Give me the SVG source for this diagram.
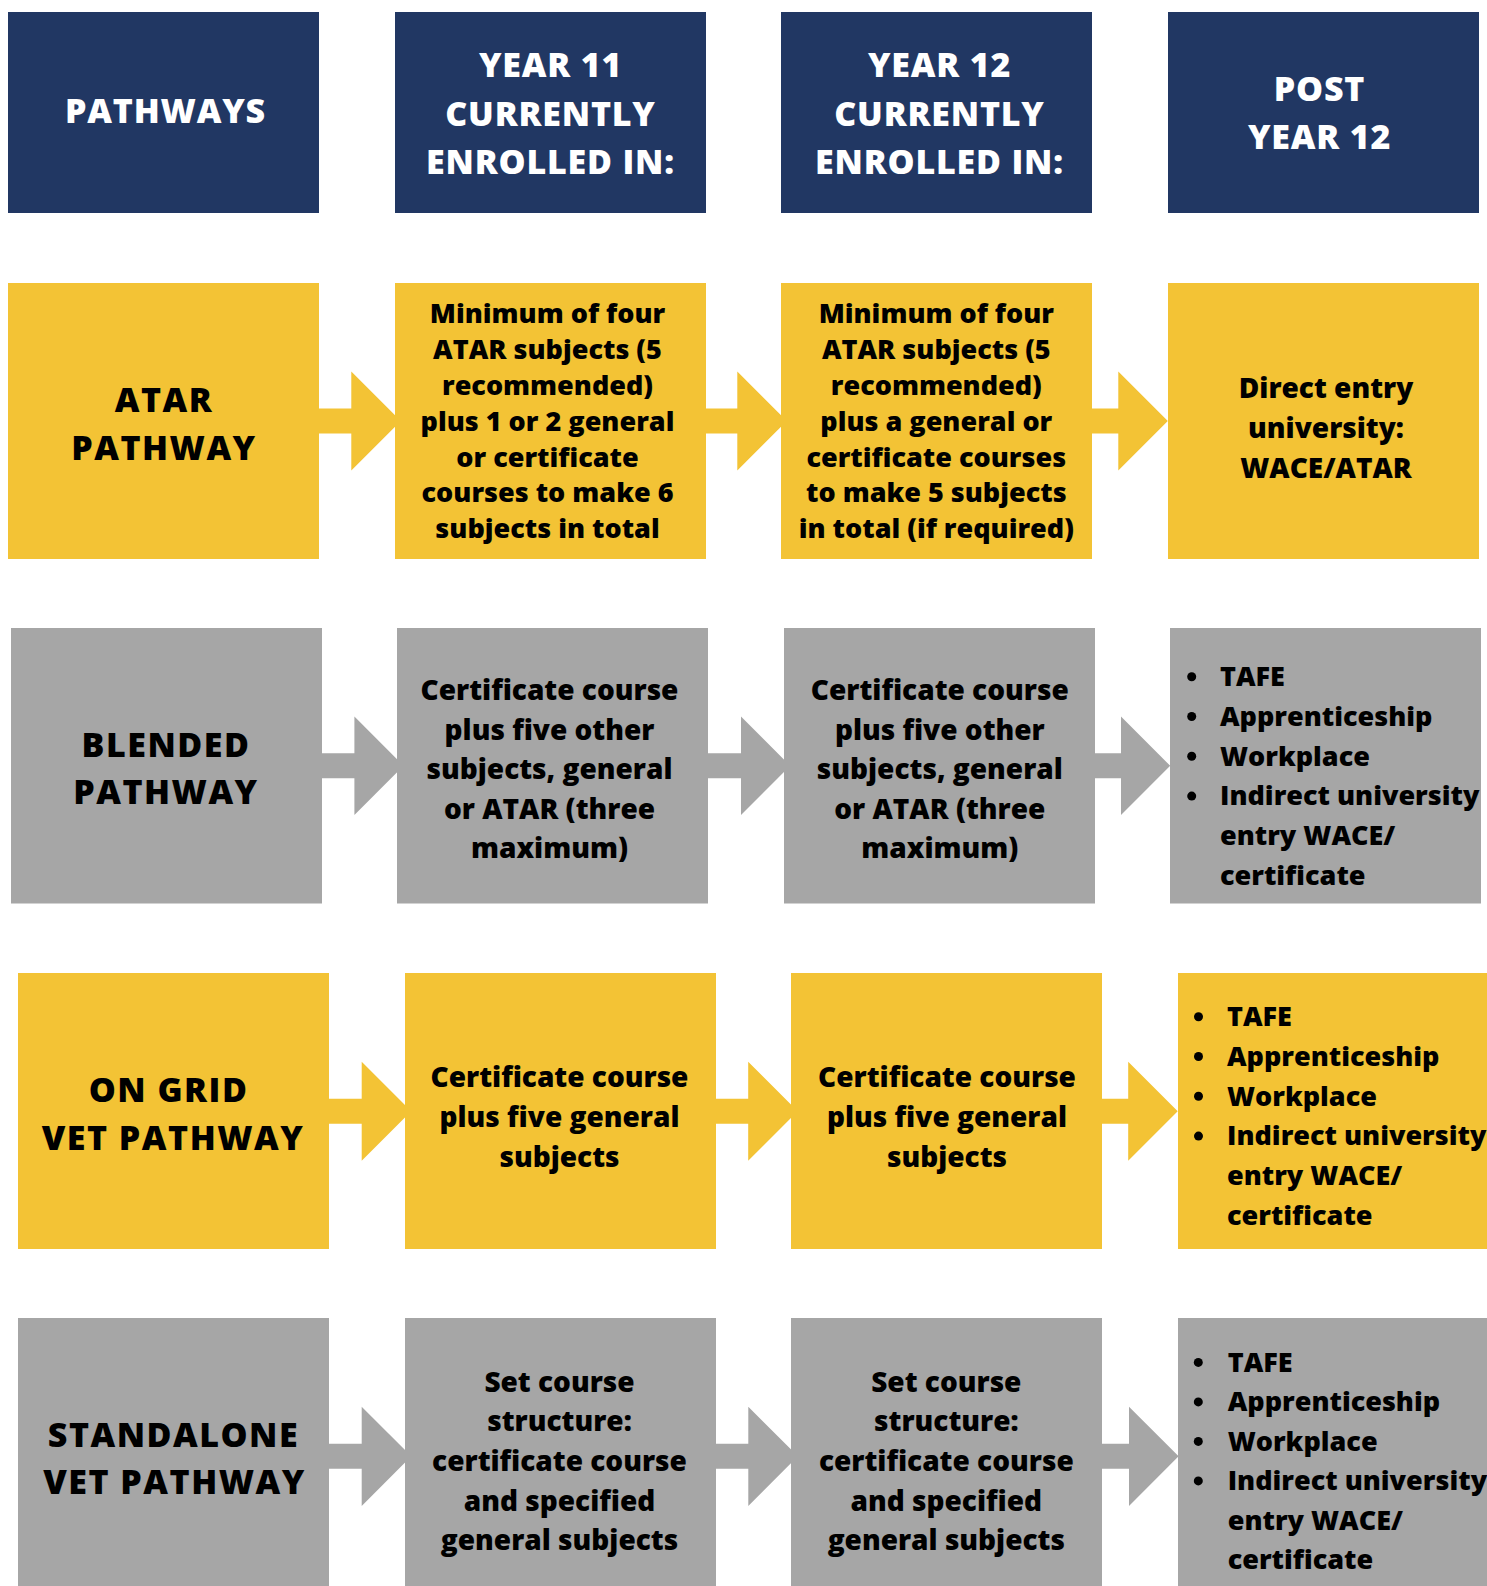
<svg xmlns="http://www.w3.org/2000/svg" width="1487" height="1586" viewBox="0 0 1487 1586">
<style>
.navy{fill:#213763}
.yel{fill:#F3C335}
.gry{fill:#A6A6A6}
text{font-family:"Open Sans","DejaVu Sans",sans-serif;font-weight:800}
.h{fill:#FFFFFF;font-size:34px;letter-spacing:0.8px;text-anchor:middle}
.lbl{fill:#000000;font-size:34px;letter-spacing:1.5px;text-anchor:middle}
.b{fill:#000000;font-size:27px;text-anchor:middle}
.b2{fill:#000000;font-size:28px;text-anchor:middle}
.li{fill:#000000;font-size:27px}
.dot{fill:#000000}
</style>
<rect width="1487" height="1586" fill="#FFFFFF"/>
<g id="connectors">
<polygon class="yel" points="319,408.5 351.3,408.5 351.3,371.5 400.8,421 351.3,470.5 351.3,433.5 319,433.5"/>
<polygon class="yel" points="706,408.5 737.3,408.5 737.3,371.5 786.8,421 737.3,470.5 737.3,433.5 706,433.5"/>
<polygon class="yel" points="1092,408.5 1118.3,408.5 1118.3,371.5 1167.8,421 1118.3,470.5 1118.3,433.5 1092,433.5"/>
<polygon class="gry" points="322,753.3 354.4,753.3 354.4,716.5 403.6,765.8 354.4,815 354.4,778.3 322,778.3"/>
<polygon class="gry" points="708,753.3 741,753.3 741,716.5 790.2,765.8 741,815 741,778.3 708,778.3"/>
<polygon class="gry" points="1095,753.3 1121,753.3 1121,716.5 1170.2,765.8 1121,815 1121,778.3 1095,778.3"/>
<polygon class="yel" points="329,1098.7 361.7,1098.7 361.7,1061.7 411.2,1111.2 361.7,1160.7 361.7,1123.7 329,1123.7"/>
<polygon class="yel" points="716,1098.7 748.2,1098.7 748.2,1061.7 797.7,1111.2 748.2,1160.7 748.2,1123.7 716,1123.7"/>
<polygon class="yel" points="1102,1098.7 1128.2,1098.7 1128.2,1061.7 1177.7,1111.2 1128.2,1160.7 1128.2,1123.7 1102,1123.7"/>
<polygon class="gry" points="329,1443.8 361.7,1443.8 361.7,1406.7 411.3,1456.3 361.7,1506 361.7,1468.8 329,1468.8"/>
<polygon class="gry" points="716,1443.8 748.3,1443.8 748.3,1406.7 797.9,1456.3 748.3,1506 748.3,1468.8 716,1468.8"/>
<polygon class="gry" points="1102,1443.8 1129,1443.8 1129,1406.7 1178.6,1456.3 1129,1506 1129,1468.8 1102,1468.8"/>
</g>
<g id="hdr-pathways">
<rect class="navy" x="8" y="12" width="311" height="201"/>
<text class="h" x="165.5" y="123.3">PATHWAYS</text>
</g>
<g id="hdr-year11">
<rect class="navy" x="395" y="12" width="311" height="201"/>
<text class="h"><tspan x="550.5" y="77.3">YEAR 11</tspan><tspan x="550.5" y="125.5">CURRENTLY</tspan><tspan x="550.5" y="173.5">ENROLLED IN:</tspan></text>
</g>
<g id="hdr-year12">
<rect class="navy" x="781" y="12" width="311" height="201"/>
<text class="h"><tspan x="939.5" y="77.3">YEAR 12</tspan><tspan x="939.5" y="125.5">CURRENTLY</tspan><tspan x="939.5" y="173.5">ENROLLED IN:</tspan></text>
</g>
<g id="hdr-post">
<rect class="navy" x="1168" y="12" width="311" height="201"/>
<text class="h"><tspan x="1319.5" y="101">POST</tspan><tspan x="1319.5" y="149">YEAR 12</tspan></text>
</g>
<g id="atar-pathway">
<rect class="yel" x="8" y="283" width="311" height="276"/>
<text class="lbl"><tspan x="164" y="412">ATAR</tspan><tspan x="164" y="459.5">PATHWAY</tspan></text>
</g>
<g id="atar-year11">
<rect class="yel" x="395" y="283" width="311" height="276"/>
<text class="b"><tspan x="547.5" y="323.3">Minimum of four</tspan><tspan x="547.5" y="359.1">ATAR subjects (5</tspan><tspan x="547.5" y="394.9">recommended)</tspan><tspan x="547.5" y="430.7">plus 1 or 2 general</tspan><tspan x="547.5" y="466.5">or certificate</tspan><tspan x="547.5" y="502.3">courses to make 6</tspan><tspan x="547.5" y="538.1">subjects in total</tspan></text>
</g>
<g id="atar-year12">
<rect class="yel" x="781" y="283" width="311" height="276"/>
<text class="b"><tspan x="936.3" y="323.3">Minimum of four</tspan><tspan x="936.3" y="359.1">ATAR subjects (5</tspan><tspan x="936.3" y="394.9">recommended)</tspan><tspan x="936.3" y="430.7">plus a general or</tspan><tspan x="936.3" y="466.5">certificate courses</tspan><tspan x="936.3" y="502.3">to make 5 subjects</tspan><tspan x="936.3" y="538.1">in total (if required)</tspan></text>
</g>
<g id="atar-post">
<rect class="yel" x="1168" y="283" width="311" height="276"/>
<text class="b2"><tspan x="1326" y="398">Direct entry</tspan><tspan x="1326" y="437.5">university:</tspan><tspan x="1326" y="477.5">WACE/ATAR</tspan></text>
</g>
<g id="blended-pathway">
<rect class="gry" x="11" y="628" width="311" height="275.5"/>
<text class="lbl"><tspan x="166" y="756.7">BLENDED</tspan><tspan x="166" y="804.3">PATHWAY</tspan></text>
</g>
<g id="blended-year11">
<rect class="gry" x="397" y="628" width="311" height="275.5"/>
<text class="b2"><tspan x="549.5" y="700">Certificate course</tspan><tspan x="549.5" y="739.6">plus five other</tspan><tspan x="549.5" y="779.2">subjects, general</tspan><tspan x="549.5" y="818.8">or ATAR (three</tspan><tspan x="549.5" y="858.4">maximum)</tspan></text>
</g>
<g id="blended-year12">
<rect class="gry" x="784" y="628" width="311" height="275.5"/>
<text class="b2"><tspan x="939.8" y="700">Certificate course</tspan><tspan x="939.8" y="739.6">plus five other</tspan><tspan x="939.8" y="779.2">subjects, general</tspan><tspan x="939.8" y="818.8">or ATAR (three</tspan><tspan x="939.8" y="858.4">maximum)</tspan></text>
</g>
<g id="blended-post">
<rect class="gry" x="1170" y="628" width="311" height="275.5"/>
<circle class="dot" cx="1191.7" cy="676.7" r="4.5"/>
<circle class="dot" cx="1191.7" cy="716.5" r="4.5"/>
<circle class="dot" cx="1191.7" cy="756.3" r="4.5"/>
<circle class="dot" cx="1191.7" cy="796.1" r="4.5"/>
<text class="li"><tspan x="1220" y="686">TAFE</tspan><tspan x="1220" y="725.8">Apprenticeship</tspan><tspan x="1220" y="765.6">Workplace</tspan><tspan x="1220" y="805.4">Indirect university</tspan><tspan x="1220" y="845.2">entry WACE/</tspan><tspan x="1220" y="885">certificate</tspan></text>
</g>
<g id="ongrid-pathway">
<rect class="yel" x="18" y="973" width="311" height="276"/>
<text class="lbl"><tspan x="168.5" y="1102.3">ON GRID</tspan><tspan x="173" y="1150">VET PATHWAY</tspan></text>
</g>
<g id="ongrid-year11">
<rect class="yel" x="405" y="973" width="311" height="276"/>
<text class="b2"><tspan x="559.5" y="1087.3">Certificate course</tspan><tspan x="559.5" y="1126.9">plus five general</tspan><tspan x="559.5" y="1166.5">subjects</tspan></text>
</g>
<g id="ongrid-year12">
<rect class="yel" x="791" y="973" width="311" height="276"/>
<text class="b2"><tspan x="947" y="1087.3">Certificate course</tspan><tspan x="947" y="1126.9">plus five general</tspan><tspan x="947" y="1166.5">subjects</tspan></text>
</g>
<g id="ongrid-post">
<rect class="yel" x="1178" y="973" width="311" height="276"/>
<circle class="dot" cx="1198.5" cy="1016.7" r="4.5"/>
<circle class="dot" cx="1198.5" cy="1056.5" r="4.5"/>
<circle class="dot" cx="1198.5" cy="1096.3" r="4.5"/>
<circle class="dot" cx="1198.5" cy="1136.1" r="4.5"/>
<text class="li"><tspan x="1227" y="1026">TAFE</tspan><tspan x="1227" y="1065.8">Apprenticeship</tspan><tspan x="1227" y="1105.6">Workplace</tspan><tspan x="1227" y="1145.4">Indirect university</tspan><tspan x="1227" y="1185.2">entry WACE/</tspan><tspan x="1227" y="1225">certificate</tspan></text>
</g>
<g id="standalone-pathway">
<rect class="gry" x="18" y="1318" width="311" height="276"/>
<text class="lbl"><tspan x="173.5" y="1447.3">STANDALONE</tspan><tspan x="174.5" y="1494.3">VET PATHWAY</tspan></text>
</g>
<g id="standalone-year11">
<rect class="gry" x="405" y="1318" width="311" height="276"/>
<text class="b2"><tspan x="559.5" y="1391.7">Set course</tspan><tspan x="559.5" y="1431.3">structure:</tspan><tspan x="559.5" y="1470.9">certificate course</tspan><tspan x="559.5" y="1510.5">and specified</tspan><tspan x="559.5" y="1550.1">general subjects</tspan></text>
</g>
<g id="standalone-year12">
<rect class="gry" x="791" y="1318" width="311" height="276"/>
<text class="b2"><tspan x="946.3" y="1391.7">Set course</tspan><tspan x="946.3" y="1431.3">structure:</tspan><tspan x="946.3" y="1470.9">certificate course</tspan><tspan x="946.3" y="1510.5">and specified</tspan><tspan x="946.3" y="1550.1">general subjects</tspan></text>
</g>
<g id="standalone-post">
<rect class="gry" x="1178" y="1318" width="311" height="276"/>
<circle class="dot" cx="1198.3" cy="1362.4" r="4.5"/>
<circle class="dot" cx="1198.3" cy="1401.9" r="4.5"/>
<circle class="dot" cx="1198.3" cy="1441.4" r="4.5"/>
<circle class="dot" cx="1198.3" cy="1480.9" r="4.5"/>
<text class="li"><tspan x="1227.7" y="1371.7">TAFE</tspan><tspan x="1227.7" y="1411.2">Apprenticeship</tspan><tspan x="1227.7" y="1450.7">Workplace</tspan><tspan x="1227.7" y="1490.2">Indirect university</tspan><tspan x="1227.7" y="1529.7">entry WACE/</tspan><tspan x="1227.7" y="1569.2">certificate</tspan></text>
</g>
</svg>
